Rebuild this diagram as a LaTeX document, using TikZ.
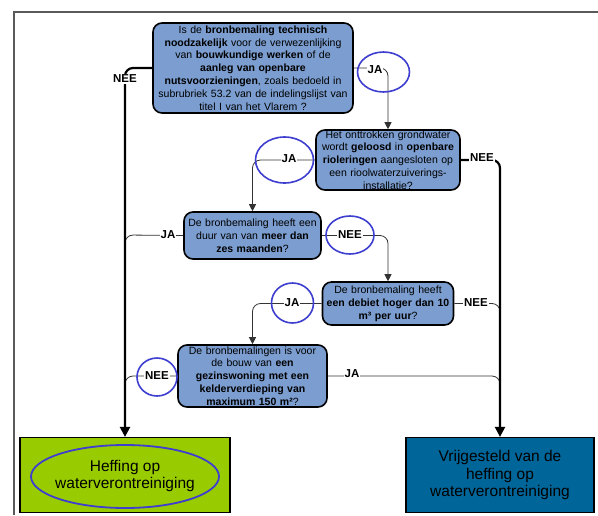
\documentclass[tikz,border=0pt]{standalone}
\usepackage{fontspec}
\setmainfont{Liberation Sans}
\usetikzlibrary{arrows.meta}
\definecolor{qfill}{RGB}{123,157,207}
\definecolor{heffgreen}{RGB}{153,204,0}
\definecolor{vrijblue}{RGB}{0,102,153}
\definecolor{ringblue}{RGB}{62,62,208}
\definecolor{framegray}{RGB}{90,90,90}
\begin{document}
\begin{tikzpicture}[x=1pt,y=-1pt,
  question/.style={draw=black, line width=1.6pt, fill=qfill, rounded corners=9pt,
    inner sep=0pt, align=center, font=\fontsize{10.5}{12.8}\selectfont},
  outcome/.style={draw=black, line width=1.2pt, inner sep=0pt, align=center,
    font=\fontsize{15.5}{17.5}\selectfont},
  lbl/.style={fill=white, inner sep=1pt, font=\fontsize{11.5}{13}\selectfont\bfseries},
  mainline/.style={line width=2.2pt, rounded corners=8pt, -{Triangle[length=10pt,width=10pt]}},
  branch/.style={line width=0.8pt, draw=black!80, rounded corners=8pt},
  brancharrow/.style={branch, -{Triangle[length=7pt,width=7pt]}},
  ring/.style={draw=ringblue, line width=1.6pt}
]
\useasboundingbox (0,0) rectangle (598,515);
\fill[white] (0,0) rectangle (598,515);
% frame
\draw[framegray, line width=1.2pt] (598,12) -- (14,12) -- (14,515);

% question boxes
\node[question, minimum width=200pt, minimum height=90pt, text width=196pt] (q1) at (253,68)
 {Is de \textbf{bronbemaling technisch}\\ \textbf{noodzakelijk} voor de verwezenlijking\\ van \textbf{bouwkundige werken} of de\\ \textbf{aanleg van openbare}\\ \textbf{nutsvoorzieningen}, zoals bedoeld in\\ subrubriek 53.2 van de indelingslijst van\\ titel I van het Vlarem ?};
\node[question, minimum width=144pt, minimum height=60pt, text width=140pt] (q2) at (388,160)
 {Het onttrokken grondwater\\ wordt \textbf{geloosd} in \textbf{openbare}\\ \textbf{rioleringen} aangesloten op\\ een rioolwaterzuiverings-\\ installatie?};
\node[question, minimum width=137pt, minimum height=47pt, text width=135pt] (q3) at (252.5,235.5)
 {De bronbemaling heeft een\\ duur van van \textbf{meer dan}\\ \textbf{zes maanden}?};
\node[question, minimum width=131pt, minimum height=43pt, text width=129pt] (q4) at (388,303.5)
 {De bronbemaling heeft\\ \textbf{een debiet hoger dan 10}\\ \textbf{m³ per uur}?};
\node[question, minimum width=149pt, minimum height=62pt, text width=145pt] (q5) at (252.5,376)
 {De bronbemalingen is voor\\ de bouw van \textbf{een}\\ \textbf{gezinswoning met een}\\ \textbf{kelderverdieping van}\\ \textbf{maximum 150 m²}?};

% outcomes
\node[outcome, fill=heffgreen, minimum width=210pt, minimum height=75pt] (green) at (125,475) {};
\draw[ring, line width=1.8pt] (125,476.5) ellipse [x radius=94pt, y radius=31.5pt];
\node[align=center, font=\fontsize{15.5}{17.5}\selectfont] (greentext) at (125,476) {Heffing op\\waterverontreiniging};
\node[outcome, fill=vrijblue, minimum width=188pt, minimum height=75pt] (blue) at (500,475)
 {Vrijgesteld van de\\heffing op\\waterverontreiniging};

% thin branches merging into main lines
\draw[branch] (q3.west) -- (125,235) -- (125,256);
\draw[branch] (q5.west) -- (125,376) -- (125,397);
\draw[branch] (q4.east) -- (500,303.5) -- (500,324);
\draw[branch] (q5.east) -- (500,376) -- (500,397);

% branches with arrows
\draw[brancharrow] (q1.east) -- (388,68) -- (q2.north);
\draw[brancharrow] (q2.west) -- (252.5,160) -- (q3.north);
\draw[brancharrow] (q3.east) -- (388,235.5) -- (q4.north);
\draw[brancharrow] (q4.west) -- (252.5,303.5) -- (q5.north);

% main lines
\draw[mainline] (q1.west) -- (125,68) -- (green.north);
\draw[mainline] (q2.east) -- (500,160) -- (blue.north);

% labels
\node[lbl] (nee1) at (125,79) {NEE};
\node[lbl] (ja1) at (375,70) {JA};
\node[lbl] (ja2) at (289,159) {JA};
\node[lbl] (nee2) at (482,158) {NEE};
\node[lbl] (ja3) at (168,235) {JA};
\node[lbl] (nee3) at (350,235) {NEE};
\node[lbl] (ja4) at (292,303) {JA};
\node[lbl] (nee4) at (476,303) {NEE};
\node[lbl] (nee5) at (157,376) {NEE};
\node[lbl] (ja5) at (352,374) {JA};

% rings
\draw[ring] (383.5,72) ellipse [x radius=26pt, y radius=20pt];
\draw[ring] (284.5,160) ellipse [x radius=29pt, y radius=23pt];
\draw[ring] (350,235) ellipse [x radius=24pt, y radius=19pt];
\draw[ring] (292.5,303) ellipse [x radius=21pt, y radius=20pt];
\draw[ring] (157,377) ellipse [x radius=20pt, y radius=19pt];
\end{tikzpicture}
\end{document}
